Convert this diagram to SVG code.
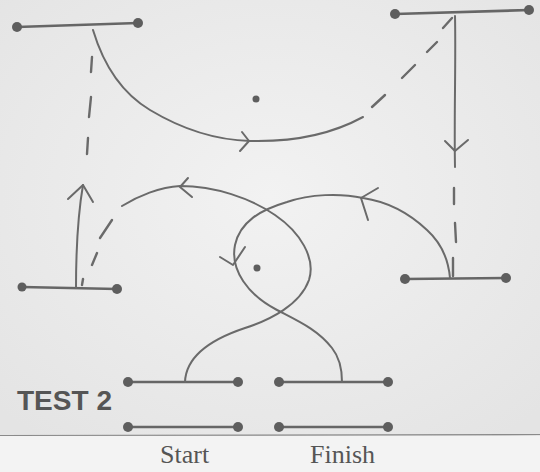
<svg xmlns="http://www.w3.org/2000/svg" width="540" height="472" viewBox="0 0 540 472">
<defs>
<radialGradient id="paper" cx="0.5" cy="0.45" r="0.7">
<stop offset="0" stop-color="#f2f2f2"/>
<stop offset="1" stop-color="#e4e4e4"/>
</radialGradient>
<style>
.bar{stroke:#666;stroke-width:2.6;fill:none;stroke-linecap:round}
.dot{fill:#5e5e5e}
.ln{stroke:#6a6a6a;stroke-width:2;fill:none;stroke-linecap:round;stroke-linejoin:round}
.dash{stroke:#6a6a6a;stroke-width:2.4;fill:none;stroke-linecap:round}
.lbl{font-family:"Liberation Serif",serif;font-size:26px;fill:#555}
.title{font-family:"Liberation Sans",Arial,sans-serif;font-weight:bold;font-size:27px;fill:#555}
</style>
</defs>
<rect x="0" y="0" width="540" height="436" fill="url(#paper)"/>
<rect x="0" y="436" width="540" height="36" fill="#f3f3f3"/>
<line x1="0" y1="435.5" x2="540" y2="434.5" stroke="#8a8a8a" stroke-width="1.2"/>

<g id="node-top-left">
<line class="bar" x1="17" y1="27" x2="138" y2="23"/>
<circle class="dot" cx="17" cy="27" r="5"/>
<circle class="dot" cx="138" cy="23" r="5"/>
</g>
<g id="node-top-right">
<line class="bar" x1="395" y1="14" x2="530" y2="10"/>
<circle class="dot" cx="395" cy="14" r="5"/>
<circle class="dot" cx="529" cy="10" r="5"/>
</g>
<g id="node-bottom-left">
<line class="bar" x1="22" y1="287" x2="117" y2="289"/>
<circle class="dot" cx="22" cy="287" r="4.5"/>
<circle class="dot" cx="117" cy="289" r="5"/>
</g>
<g id="node-bottom-right">
<line class="bar" x1="405" y1="279" x2="506" y2="278"/>
<circle class="dot" cx="405" cy="279" r="5"/>
<circle class="dot" cx="506" cy="278" r="5"/>
</g>
<g id="node-start">
<line class="bar" x1="128" y1="382" x2="238" y2="382"/>
<circle class="dot" cx="128" cy="382" r="5"/>
<circle class="dot" cx="238" cy="382" r="5"/>
<line class="bar" x1="128" y1="427" x2="238" y2="427"/>
<circle class="dot" cx="128" cy="427" r="5"/>
<circle class="dot" cx="238" cy="427" r="5"/>
<text class="lbl" x="160" y="463">Start</text>
</g>
<g id="node-finish">
<line class="bar" x1="279" y1="382" x2="388" y2="382"/>
<circle class="dot" cx="279" cy="382" r="5"/>
<circle class="dot" cx="388" cy="382" r="5"/>
<line class="bar" x1="279" y1="427" x2="388" y2="427"/>
<circle class="dot" cx="279" cy="427" r="5"/>
<circle class="dot" cx="388" cy="427" r="5"/>
<text class="lbl" x="310" y="463">Finish</text>
</g>
<g id="marks">
<circle class="dot" cx="256" cy="99" r="3.5"/>
<circle class="dot" cx="257" cy="268" r="3.5"/>
<text class="title" x="17" y="410" textLength="95" lengthAdjust="spacingAndGlyphs">TEST 2</text>
</g>

<g id="connectors">
<!-- start to bottom-left via loop -->
<path class="ln" d="M185,382 C186,355 215,338 245,328 C270,320 300,305 309,280 C316,258 300,232 275,215 C250,198 215,186 180,186 C160,187 138,196 122,206"/>
<polyline class="ln" points="188,178 180,187 192,197"/>
<line class="dash" x1="112" y1="220" x2="100" y2="238"/>
<line class="dash" x1="97" y1="253" x2="92" y2="265"/>
<line class="dash" x1="83" y1="279" x2="82" y2="285"/>
<!-- bottom-left up -->
<path class="ln" d="M76,288 C76,260 77,220 83,185"/>
<polyline class="ln" points="68,199 83,185 93,202"/>
<!-- dashed up to top-left -->
<line class="dash" x1="92" y1="57" x2="91" y2="72"/>
<line class="dash" x1="91" y1="97" x2="89" y2="117"/>
<line class="dash" x1="88" y1="138" x2="87" y2="154"/>
<!-- top-left to top-right -->
<path class="ln" d="M93,30 C105,70 125,95 150,110 C180,128 215,140 250,141 C290,142 330,135 363,117"/>
<polyline class="ln" points="242,132 249,141 240,151"/>
<line class="dash" x1="372" y1="107" x2="385" y2="95"/>
<line class="dash" x1="402" y1="78" x2="415" y2="65"/>
<line class="dash" x1="427" y1="52" x2="437" y2="42"/>
<line class="dash" x1="443" y1="28" x2="452" y2="18"/>
<!-- top-right down -->
<path class="ln" d="M455,16 C456,60 454,120 455,167"/>
<polyline class="ln" points="445,141 455,151 468,140"/>
<line class="dash" x1="454" y1="188" x2="454" y2="204"/>
<line class="dash" x1="455" y1="223" x2="456" y2="242"/>
<line class="dash" x1="453" y1="258" x2="453" y2="276"/>
<!-- bottom-right to finish via loop -->
<path class="ln" d="M450,278 C448,255 438,240 427,230 C410,214 390,202 363,198 C340,193 310,194 287,202 C260,210 240,222 235,245 C230,270 248,295 277,310 C300,322 318,330 332,348 C340,358 342,370 342,382"/>
<polyline class="ln" points="378,188 361,198 368,220"/>
<polyline class="ln" points="220,257 233,265 245,247"/>
</g>
</svg>
